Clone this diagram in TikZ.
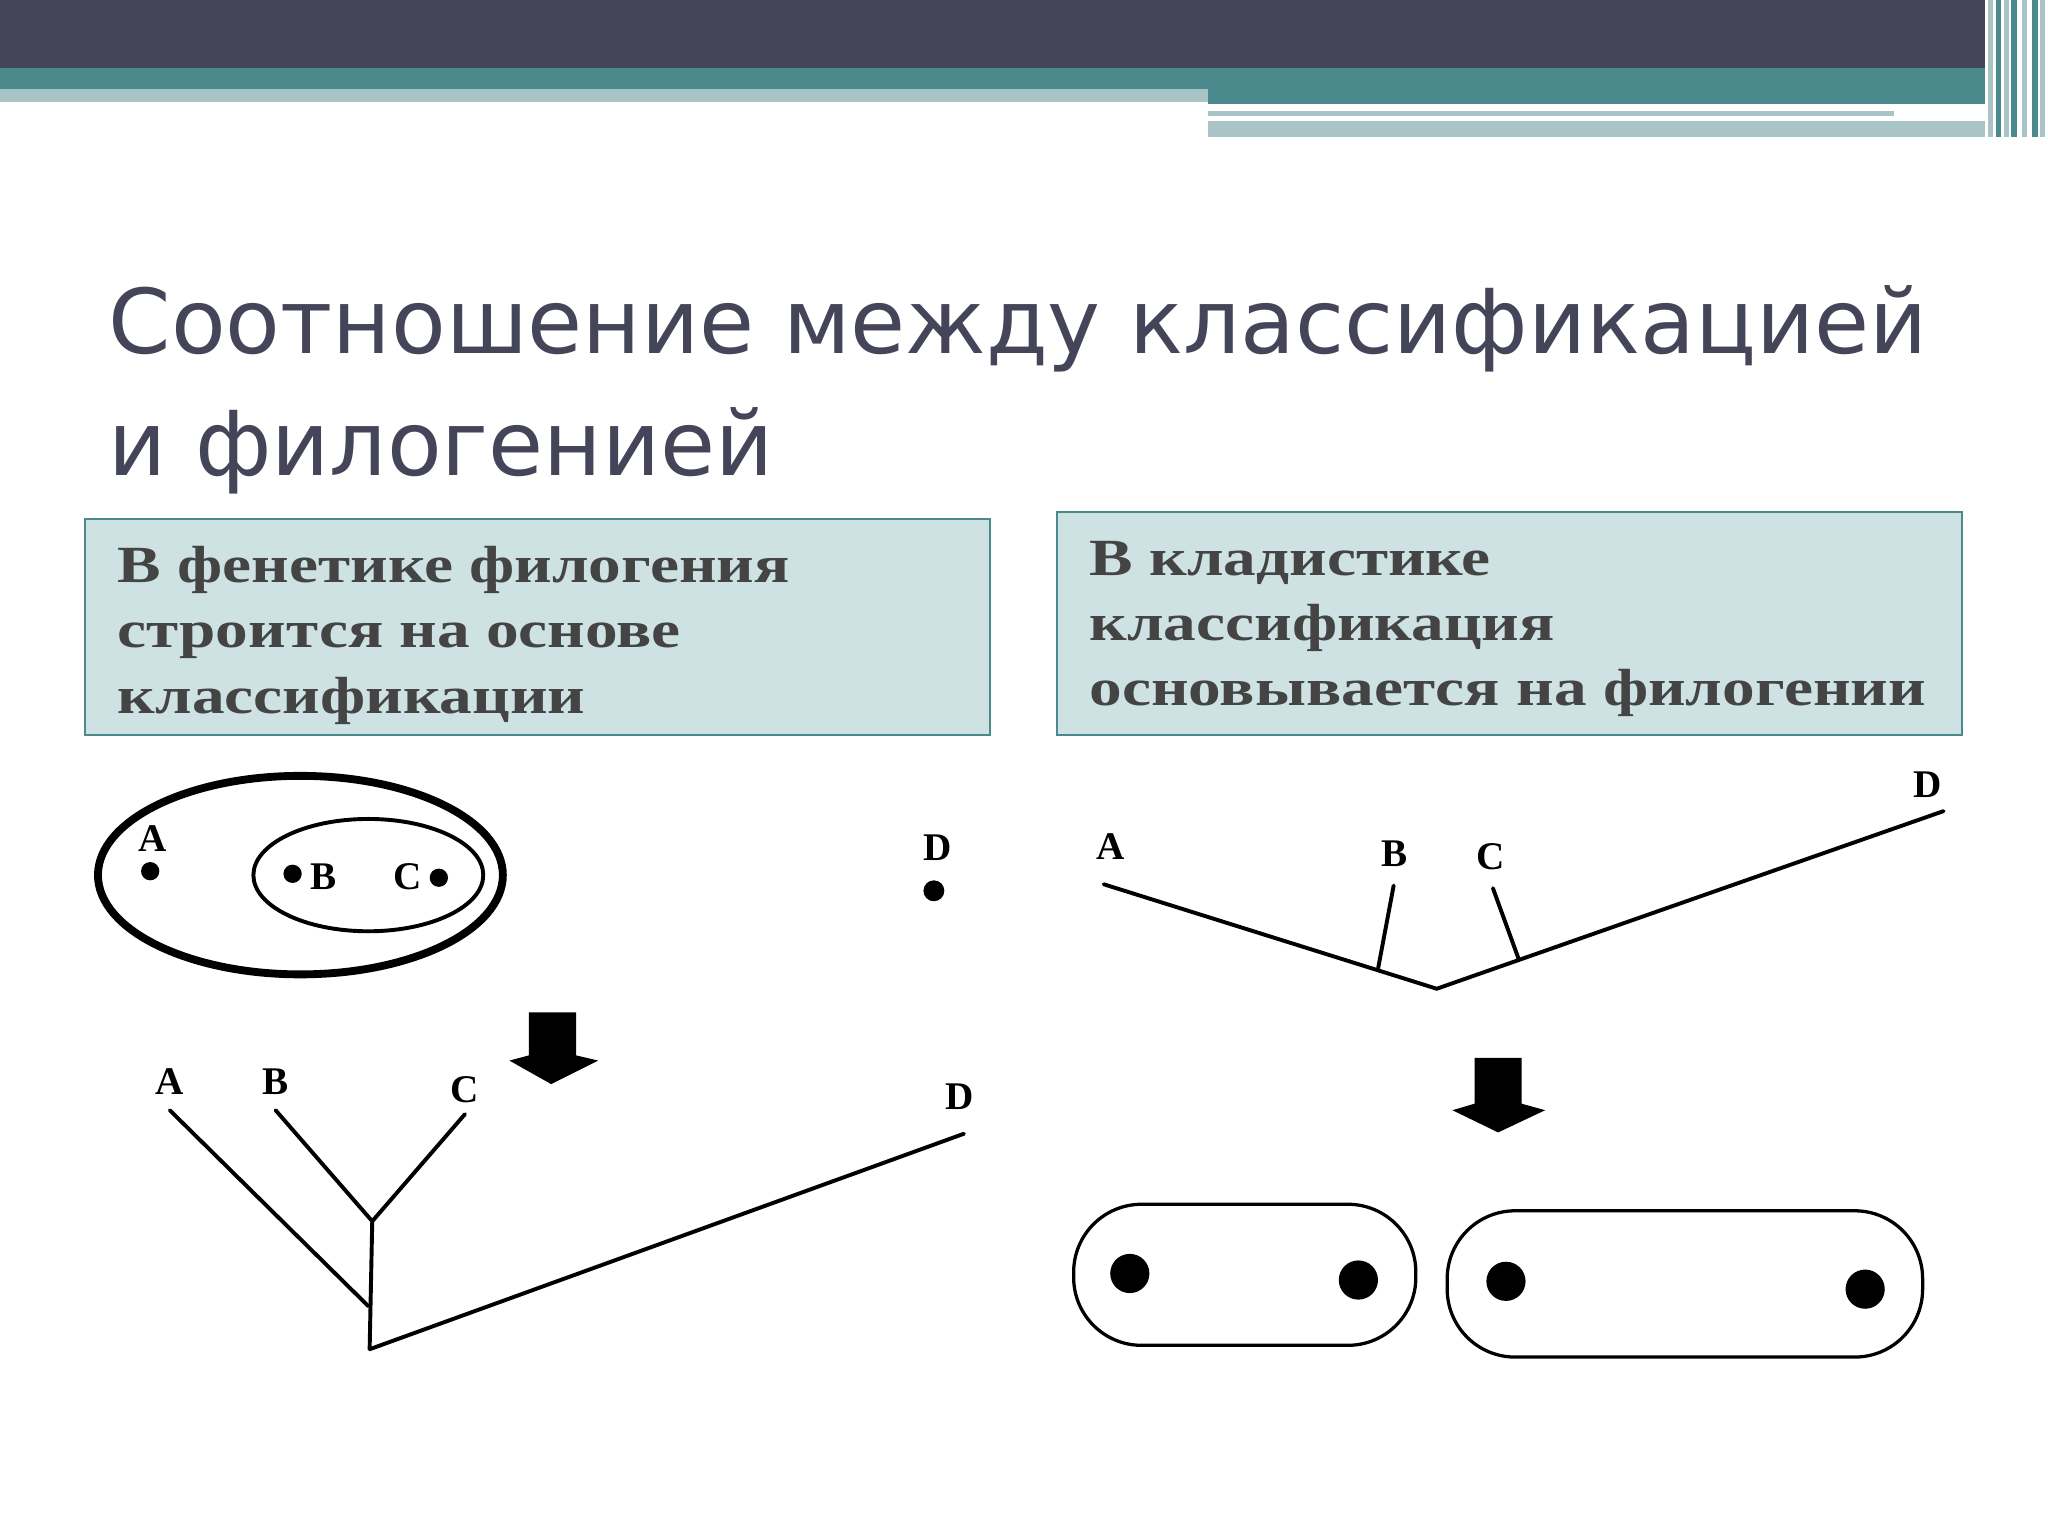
\documentclass[tikz,border=0pt]{standalone}
\usepackage{fontspec}
\setmainfont{Liberation Serif}
\newfontfamily\titlefont{DejaVu Sans}
\newfontfamily\boxfont[FakeStretch=1.25]{Liberation Serif}
\usetikzlibrary{shapes.geometric}
\definecolor{dark}{HTML}{45455A}
\definecolor{teal}{HTML}{4A8A8C}
\definecolor{lteal}{HTML}{A8C4C6}
\definecolor{boxfill}{HTML}{CFE2E3}
\definecolor{txt}{HTML}{444444}
\tikzset{
 lbl/.style={font=\fontsize{30}{30}\selectfont\bfseries, inner sep=0pt},
 hdrbox/.style={draw=teal, line width=1.5pt, fill=boxfill},
 hdrtxt/.style={font=\boxfont\fontsize{40}{50}\selectfont\bfseries, text=txt, align=left, anchor=north west, inner sep=0pt},
 br/.style={line width=3pt, line cap=round},
 dotn/.style={circle, fill=black, inner sep=0pt},
 barrow/.style={fill=black},
 pill/.style={draw, line width=2.5pt, rounded corners=52pt}
}
\begin{document}
\begin{tikzpicture}[x=1pt,y=-1pt]
\useasboundingbox[fill=white] (0,0) rectangle (1568,1176);
% top bars
\fill[dark] (0,0) rectangle (1520,52);
\fill[teal] (0,52) rectangle (1520,68);
\fill[lteal] (0,68) rectangle (925,78);
\fill[teal] (925,68) rectangle (1520,80);
\fill[lteal] (925,85) rectangle (1450,89);
\fill[lteal] (925,93) rectangle (1520,105);
\foreach \x/\c in {1522/lteal,1528/teal,1534/lteal,1540/teal,1548/lteal,1556/teal,1562/lteal}
  \fill[\c] (\x,0) rectangle ++(4,105);
% title
\node[anchor=base west, inner sep=0pt, text=dark, font=\titlefont\fontsize{68.5}{92}\selectfont] (t1) at (83,271) {Соотношение между классификацией};
\node[anchor=base west, inner sep=0pt, text=dark, font=\titlefont\fontsize{68.5}{92}\selectfont] (t2) at (83,364) {и филогенией};
% boxes
\draw[hdrbox] (65,397) rectangle (758,563);
\node[hdrtxt] (lt) at (90,418) {В фенетике филогения\\строится на основе\\классификации};
\draw[hdrbox] (809,392) rectangle (1502,563);
\node[hdrtxt] (rt) at (834,414) {В кладистике\\классификация\\основывается на филогении};
% left top: ellipses
\node[ellipse, draw, line width=6pt, minimum width=310pt, minimum height=152pt] (E1) at (230,670) {};
\node[ellipse, draw, line width=3pt, minimum width=176pt, minimum height=86pt] (E2) at (282,670) {};
\node[dotn, minimum size=14pt] (da) at (115,667) {};
\node[lbl] (la) at (117,642) {A};
\node[dotn, minimum size=14pt] (db) at (224,669) {};
\node[lbl] (lb) at (248,671) {B};
\node[lbl] (lc) at (312,671) {C};
\node[dotn, minimum size=14pt] (dc) at (336,672) {};
\node[lbl] (ld) at (718,649) {D};
\node[dotn, minimum size=16pt] (dd) at (715,682) {};
% arrow left
\fill[barrow] (405,775) -- (441,775) -- (441,808) -- (458,812) -- (422,830) -- (390,812) -- (405,808) -- cycle;
% left tree
\node[lbl] (ta) at (130,828) {A};
\node[lbl] (tb) at (211,828) {B};
\node[lbl] (tc) at (356,834) {C};
\node[lbl] (td) at (735,840) {D};
\coordinate (a1) at (130,850);
\coordinate (b1) at (211,850);
\coordinate (c1) at (356,853);
\coordinate (d1) at (738,868);
\coordinate (j1) at (285,935);
\coordinate (j2) at (282,1000);
\coordinate (root) at (283,1033);
\draw[br] (a1) -- (j2);
\draw[br] (b1) -- (j1);
\draw[br] (c1) -- (j1);
\draw[br] (j1) -- (root);
\draw[br] (root) -- (d1);
% right tree
\node[lbl] (ra) at (850,648) {A};
\node[lbl] (rb) at (1068,654) {B};
\node[lbl] (rc) at (1141,656) {C};
\node[lbl] (rd) at (1476,601) {D};
\coordinate (ra1) at (845,677);
\coordinate (rr) at (1100,757);
\coordinate (rb1) at (1067,678);
\coordinate (rb2) at (1055,742);
\coordinate (rc1) at (1143,680);
\coordinate (rc2) at (1163,735);
\coordinate (rd1) at (1488,621);
\draw[br] (ra1) -- (rr) -- (rd1);
\draw[br] (rb1) -- (rb2);
\draw[br] (rc1) -- (rc2);
% arrow right
\fill[barrow] (1129,810) -- (1165,810) -- (1165,845) -- (1183,850) -- (1147,867) -- (1112,850) -- (1129,845) -- cycle;
% bottom groups
\draw[pill] (822,922) rectangle (1084,1030);
\draw[pill] (1108,927) rectangle (1472,1039);
\node[dotn, minimum size=30pt] (g1) at (865,975) {};
\node[dotn, minimum size=30pt] (g2) at (1040,980) {};
\node[dotn, minimum size=30pt] (g3) at (1153,981) {};
\node[dotn, minimum size=30pt] (g4) at (1428,987) {};
\end{tikzpicture}
\end{document}
